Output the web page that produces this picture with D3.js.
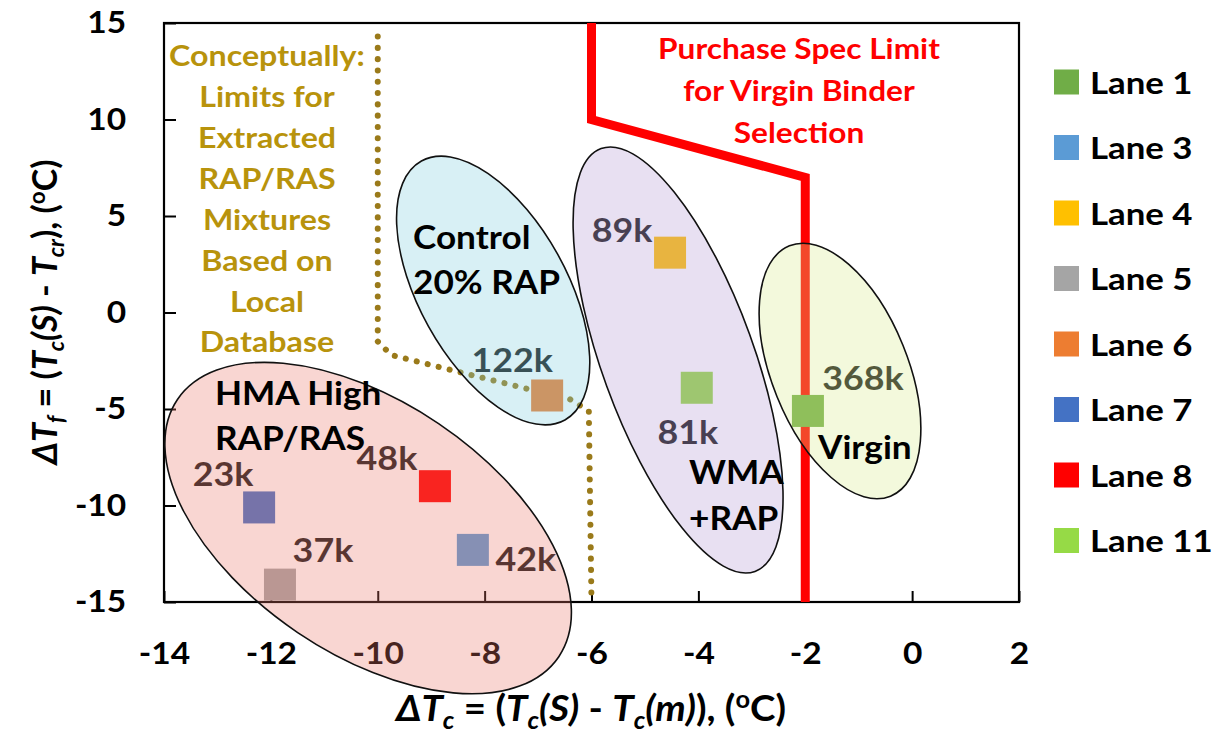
<!DOCTYPE html>
<html>
<head>
<meta charset="utf-8">
<script src="https://cdn.jsdelivr.net/npm/d3@7"></script>
<style>
  body { margin: 0; background: #fff; }
  text { font-family: Lato, "Open Sans", sans-serif; font-weight: 700; }
</style>
</head>
<body>
<svg id="chart" width="1226" height="739"></svg>
<script>
// ---- data ----
const lanes        = ["Lane 1", "Lane 3", "Lane 4", "Lane 5", "Lane 6", "Lane 7", "Lane 8", "Lane 11"];
const laneColors   = ["#70AD47", "#5B9BD5", "#FFC000", "#A5A5A5", "#ED7D31", "#4472C4", "#FF0000", "#96DA46"];
const deltaTc      = [-1.95, -8.22, -4.53, -11.83, -6.83, -12.22, -8.93, -4.03];
const deltaTf      = [-5.1, -12.3, 3.1, -14.1, -4.3, -10.1, -9.0, -3.9];
const trafficLoads = ["368k", "42k", "89k", "37k", "122k", "23k", "48k", "81k"];
const xTicks       = [-14, -12, -10, -8, -6, -4, -2, 0, 2];
const yTicks       = [-15, -10, -5, 0, 5, 10, 15];
// purchase spec limit for virgin binder (ΔTc, ΔTf)
const specLimit    = [[-6, 15], [-6, 10], [-2, 7], [-2, -15]];
// conceptual limit for extracted RAP/RAS mixtures
const localLimit   = [[-10, 14.3], [-10, -1.5], [-9.75, -2.2], [-8.6, -3.0], [-6.4, -4.5], [-6.05, -5.1], [-6, -15]];

// ---- layout ----
const svg = d3.select("#chart");
const x = d3.scaleLinear().domain([-14, 2]).range([164, 1019]);
const y = d3.scaleLinear().domain([-15, 15]).range([602, 23]);
const SX = 1.13;   // horizontal widening applied to the bold labels

// text helper: anchored at (px, py), vertically centred, widened by sx
function label(parent, px, py, txt, fs, fill, anchor, sx) {
  return parent.append("text")
    .attr("transform", `translate(${px},${py}) scale(${sx},1)`)
    .attr("text-anchor", anchor).attr("dominant-baseline", "central")
    .attr("font-size", fs).attr("fill", fill).text(txt);
}

// mixture groups drawn as translucent rotated ellipses (centre in data units)
const groups = [
  { cx: -10.18, cy: -11.17, rx: 230, ry: 126, rot: 34, fill: "#EB7669",
    label: ["HMA High", "RAP/RAS"], lx: 215, ly: [393, 438] },
  { cx: -7.84, cy: 1.14, rx: 148, ry: 74, rot: 61, fill: "#7DCDDE",
    label: ["Control", "20% RAP"], lx: 413, ly: [237, 282] },
  { cx: -4.38, cy: -2.46, rx: 225, ry: 76, rot: 70, fill: "#B298D4",
    label: ["WMA", "+RAP"], lx: 689, ly: [472, 518] },
  { cx: -1.35, cy: -3.03, rx: 135, ry: 68, rot: 68, fill: "#D7EB8A",
    label: ["Virgin"], lx: 818, ly: [447] }
];
// offsets of the traffic labels from their markers (px)
const labelOffsets = [[55, -34], [53, 8], [-48, -23], [43, -35], [-35, -36], [-36, -34], [-48, -29], [-9, 44]];

// ---- axes ----
const xAxis = d3.axisBottom(x).tickValues(xTicks).tickFormat(d => String(d))
  .tickSizeInner(-11).tickSizeOuter(0).tickPadding(40);
const gx = svg.append("g").attr("transform", `translate(0,${y(-15)})`).call(xAxis);
const yAxis = d3.axisLeft(y).tickValues(yTicks).tickFormat(d => String(d))
  .tickSizeInner(-12).tickSizeOuter(0).tickPadding(35);
const gy = svg.append("g").attr("transform", `translate(${x(-14)},0)`).call(yAxis);
[gx, gy].forEach(g => {
  g.select(".domain").remove();
  g.selectAll(".tick line").attr("stroke", "#000").attr("stroke-width", 2);
  g.selectAll(".tick text").attr("font-size", 31).attr("fill", "#000")
    .attr("transform", "scale(1.08,1)")
    .style("font-family", "Lato, sans-serif").style("font-weight", 700);
});

// plot frame
svg.append("rect")
  .attr("x", x(-14)).attr("y", y(15))
  .attr("width", x(2) - x(-14)).attr("height", y(-15) - y(15))
  .attr("fill", "none").attr("stroke", "#000").attr("stroke-width", 2.2);

// ---- limit lines ----
const line = d3.line().x(d => x(d[0])).y(d => y(d[1]));
svg.append("path").datum(specLimit).attr("d", line)
  .attr("fill", "none").attr("stroke", "#FF0000").attr("stroke-width", 9)
  .attr("stroke-linejoin", "miter");
svg.append("path").datum(localLimit).attr("d", line)
  .attr("fill", "none").attr("stroke", "#9A7A1A").attr("stroke-width", 6)
  .attr("stroke-linecap", "round").attr("stroke-dasharray", "0.1 11.2");

// ---- traffic labels (sit under the translucent group shading) ----
const tl = svg.append("g");
lanes.forEach((d, i) => {
  label(tl, x(deltaTc[i]) + labelOffsets[i][0], y(deltaTf[i]) + labelOffsets[i][1],
        trafficLoads[i], 32, "#1a1a1a", "middle", 1.12);
});

// ---- markers ----
const M = 32;
svg.append("g").selectAll("rect").data(lanes).join("rect")
  .attr("x", (d, i) => x(deltaTc[i]) - M / 2)
  .attr("y", (d, i) => y(deltaTf[i]) - M / 2)
  .attr("width", M).attr("height", M)
  .attr("fill", (d, i) => laneColors[i]);

// ---- group ellipses ----
svg.append("g").selectAll("ellipse").data(groups).join("ellipse")
  .attr("transform", d => `translate(${x(d.cx)},${y(d.cy)}) rotate(${d.rot})`)
  .attr("rx", d => d.rx).attr("ry", d => d.ry)
  .attr("fill", d => d.fill).attr("fill-opacity", 0.3)
  .attr("stroke", "#111").attr("stroke-width", 1.6);

// group names
groups.forEach(g => {
  g.label.forEach((t, k) => label(svg, g.lx, g.ly[k], t, 32, "#000", "start", 1.1));
});

// ---- annotations ----
const conceptual = ["Conceptually:", "Limits for", "Extracted", "RAP/RAS", "Mixtures", "Based on", "Local", "Database"];
conceptual.forEach((t, k) => label(svg, 267, 55 + k * 40.9, t, 28, "#B8930C", "middle", 1.15));
const spec = ["Purchase Spec Limit", "for Virgin Binder", "Selection"];
spec.forEach((t, k) => label(svg, 799, 48 + k * 42, t, 28, "#FF0000", "middle", SX));

// ---- legend ----
const lg = svg.append("g");
lanes.forEach((name, i) => {
  const cy = 82 + i * 65.5;
  lg.append("rect").attr("x", 1054).attr("y", cy - 12.5).attr("width", 25).attr("height", 25)
    .attr("fill", laneColors[i]);
  label(lg, 1090, cy, name, 30, "#000", "start", 1.16);
});

// ---- axis titles ----
function richText(parent, parts, fs) {
  const t = parent.append("text").attr("font-size", fs).attr("fill", "#000");
  let shift = 0;
  parts.forEach(p => {
    const target = p.sub ? fs * 0.22 : p.sup ? -fs * 0.36 : 0;
    const ts = t.append("tspan").text(p.t).attr("dy", target - shift);
    shift = target;
    if (p.sub || p.sup) ts.attr("font-size", fs * 0.66);
    if (p.it) ts.attr("font-style", "italic");
  });
  return t;
}
const xTitle = [
  { t: "\u0394T", it: true }, { t: "c", it: true, sub: true }, { t: " = (" },
  { t: "T", it: true }, { t: "c", it: true, sub: true }, { t: "(S)", it: true }, { t: " - " },
  { t: "T", it: true }, { t: "c", it: true, sub: true }, { t: "(m)", it: true }, { t: "), (" },
  { t: "o", sup: true }, { t: "C)" }
];
richText(svg.append("g").attr("transform", "translate(591,721) scale(1.04,1)"), xTitle, 37)
  .attr("x", 0).attr("y", 0).attr("text-anchor", "middle");

const yTitle = [
  { t: "\u0394T", it: true }, { t: "f", it: true, sub: true }, { t: " = (" },
  { t: "T", it: true }, { t: "c", it: true, sub: true }, { t: "(S)", it: true }, { t: " - " },
  { t: "T", it: true }, { t: "cr", it: true, sub: true }, { t: "), (" },
  { t: "o", sup: true }, { t: "C)" }
];
richText(svg.append("g").attr("transform", "translate(57,312) rotate(-90)"), yTitle, 34)
  .attr("x", 0).attr("y", 0).attr("text-anchor", "middle");
</script>
</body>
</html>
